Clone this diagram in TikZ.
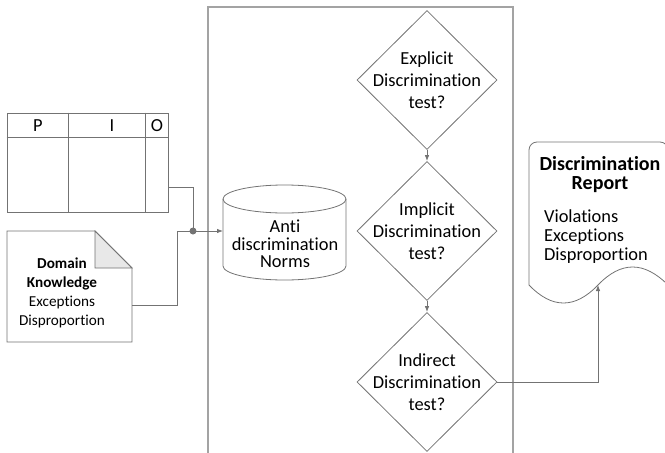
\documentclass[tikz,border=0pt]{standalone}
\usepackage{fontspec}
\setmainfont[Ligatures=NoCommon]{Carlito}
\usetikzlibrary{shapes.geometric,arrows.meta}
\definecolor{linegray}{HTML}{737373}
\definecolor{framegray}{HTML}{A3A3A3}
\definecolor{foldgray}{HTML}{E8E8E8}
\begin{document}
\begin{tikzpicture}[x=1pt,y=-1pt,>={Latex[length=6pt,width=4.5pt]},
    shp/.style={draw=linegray,line width=0.8pt},
    conn/.style={draw=linegray,line width=0.8pt},
    bigtxt/.style={font=\fontsize{18.4}{22}\selectfont,align=center},
    smalltxt/.style={font=\fontsize{15.2}{19}\selectfont,align=center},
    decision/.style={shp,diamond,minimum width=140pt,minimum height=139pt,inner sep=-10pt,bigtxt}]
                \useasboundingbox (0,0) rectangle (665,453);
                % frame
                \draw[framegray,line width=1.5pt] (208,453)--(208,7)--(513,7)--(513,453);
                % PIO table
                \node[shp,minimum width=161pt,minimum height=99pt,inner sep=0pt] (pio) at (87.5,162.5) {};
                \draw[shp] ([yshift=-25pt]pio.north west)--([yshift=-25pt]pio.north east);
                \draw[shp] ([xshift=62pt]pio.north west)--([xshift=62pt]pio.south west);
                \draw[shp] ([xshift=139pt]pio.north west)--([xshift=139pt]pio.south west);
                \node[bigtxt] (colp) at (38,126) {P};
                \node[bigtxt] (coli) at (112,126) {I};
                \node[bigtxt] (colo) at (157,126) {O};
                % domain knowledge
                \draw[shp,fill=white] (7,231)--(95,231)--(132,268)--(132,342)--(7,342)--cycle;
                \draw[shp,fill=foldgray] (95,231)--(95,268)--(132,268)--cycle;
                \node[smalltxt] (dk) at (62,293) {\textbf{Domain}\\\textbf{Knowledge}\\Exceptions\\Disproportion};
                % norms
                \draw[shp] (223,199)--(223,266) arc[start angle=180,end angle=360,x radius=61.5pt,y radius=14pt]--(346,199);
                \draw[shp] (284.5,199) ellipse[x radius=61.5pt,y radius=14pt];
                \node[bigtxt,font=\fontsize{18.4}{17.5}\selectfont] (norms) at (285,244) {Anti\\discrimination\\Norms};
                \coordinate (normsin) at (223,231);
                % tests
                \node[decision] (expl) at (427,80) {Explicit\\Discrimination\\test?};
                \node[decision] (impl) at (427,231) {Implicit\\Discrimination\\test?};
                \node[decision] (indi) at (427,382) {Indirect\\Discrimination\\test?};
                % report
                \draw[shp] (529,285)--(529,150) arc[start angle=180,end angle=90,radius=8pt]--(660,142)
                    arc[start angle=90,end angle=0,radius=8pt]--(668,285)
                    .. controls (644,261) and (621,261) .. (598,285)
                    .. controls (575,309) and (552,309) .. (529,285)--cycle;
                \node[bigtxt,font=\fontsize{20}{19}\selectfont] (rephead) at (600,175) {\textbf{Discrimination}\\\textbf{Report}};
                \node[bigtxt,align=left,font=\fontsize{18.4}{19}\selectfont] (repbody) at (596,237) {Violations\\Exceptions\\Disproportion};
                % connectors
                \coordinate (pioout) at (168,187);
                \coordinate (dkout) at (132,305);
                \coordinate (join) at (193,231);
                \coordinate (bend) at (177,231);
                \coordinate (repin) at (598,285);
                \draw[conn] (pioout)-|(join);
                \draw[conn] (dkout)-|(bend)--(join);
                \fill[linegray] (join) circle (3.5pt);
                \draw[conn,->] (join)--(normsin);
                \draw[conn,->] (expl.south)--(impl.north);
                \draw[conn,->] (impl.south)--(indi.north);
                \draw[conn,->] (indi.east)-|(repin);
            \end{tikzpicture}
\end{document}
